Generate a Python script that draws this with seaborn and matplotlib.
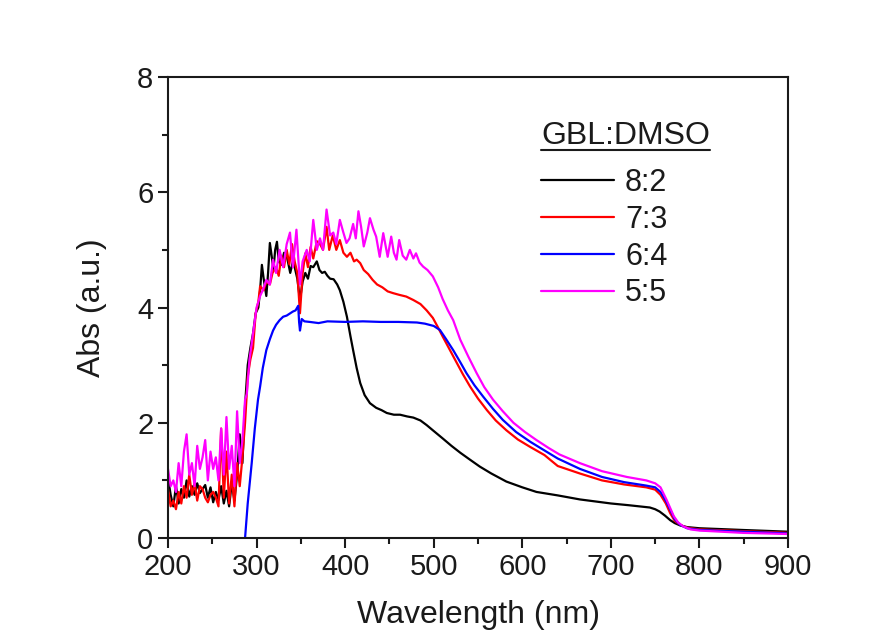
import numpy as np
import pandas as pd
import seaborn as sns
import matplotlib.pyplot as plt
from matplotlib.ticker import MultipleLocator
from matplotlib.lines import Line2D

# GBL:DMSO = 8:2
wl_82 = [200, 203, 206, 209, 212, 215, 218, 221, 224, 227, 230, 233, 236, 239, 242, 245, 248, 251, 254, 257,
         260, 263, 266, 269, 272, 275, 278, 281, 284, 287, 290, 293, 296, 299, 302, 304, 306, 308, 311, 313,
         315, 317, 319, 321, 323, 325, 328, 331, 334, 336, 338, 341, 343, 346, 349, 352, 355, 358, 361, 364,
         368, 371, 374, 377, 380, 383, 387, 391, 394, 398, 402, 406, 409, 413, 417, 422, 428, 435, 441, 447,
         455, 462, 470, 477, 485, 492, 499, 510, 520, 530, 540, 552, 565, 582, 600, 616, 640, 665, 700, 720,
         744, 750, 755, 761, 767, 772, 778, 786, 800, 825, 849, 875, 900]
abs_82 = [1.05, 0.75, 0.55, 0.9, 0.6, 0.85, 0.7, 1.0, 0.72, 0.9, 0.75, 0.95, 0.78, 0.85, 0.92, 0.7, 0.88, 0.62, 0.8, 0.66,
          0.9, 0.6, 0.82, 0.55, 0.95, 0.65, 1.1, 1.8, 1.3, 2.3, 3.0, 3.3, 3.55, 3.9, 4.0, 4.3, 4.74, 4.5, 4.2, 4.6,
          5.12, 4.9, 4.65, 5.0, 5.14, 4.8, 4.74, 4.95, 4.9, 4.75, 4.6, 4.8, 4.7, 4.5, 4.13, 4.45, 4.6, 4.5, 4.72, 4.7,
          4.8, 4.65, 4.6, 4.62, 4.55, 4.5, 4.49, 4.4, 4.3, 4.1, 3.84, 3.5, 3.26, 2.95, 2.69, 2.48, 2.34, 2.26, 2.22, 2.17,
          2.14, 2.14, 2.11, 2.09, 2.04, 1.96, 1.87, 1.73, 1.6, 1.48, 1.37, 1.24, 1.12, 0.98, 0.88, 0.8, 0.74, 0.67, 0.6, 0.57,
          0.53, 0.5, 0.46, 0.39, 0.31, 0.26, 0.22, 0.19, 0.17, 0.155, 0.14, 0.125, 0.11]

# GBL:DMSO = 7:3
wl_73 = [200, 203, 206, 209, 212, 215, 218, 221, 224, 227, 230, 233, 236, 239, 242, 245, 248, 251, 254, 257,
         260, 263, 266, 269, 272, 275, 278, 281, 284, 287, 290, 293, 296, 299, 302, 304, 308, 311, 315, 318,
         322, 325, 328, 331, 334, 337, 340, 343, 346, 349, 352, 355, 358, 361, 364, 368, 371, 375, 379, 382,
         386, 390, 394, 398, 402, 406, 410, 413, 417, 421, 426, 431, 436, 442, 448, 454, 461, 469, 477, 485,
         492, 499, 505, 510, 518, 526, 533, 541, 550, 560, 570, 582, 595, 609, 625, 640, 665, 690, 715, 740,
         750, 756, 762, 767, 772, 778, 786, 800, 849, 900]
abs_73 = [0.85, 0.55, 0.65, 0.5, 0.8, 0.6, 0.9, 0.7, 1.1, 0.75, 0.95, 0.65, 0.9, 0.85, 0.7, 0.62, 0.75, 0.8, 0.7, 0.55,
          1.9, 0.7, 1.5, 0.6, 1.1, 0.55, 1.3, 0.9, 1.4, 2.0, 2.8, 3.1, 3.3, 3.9, 4.1, 4.37, 4.3, 4.45, 4.4, 4.6,
          4.7, 4.55, 4.9, 4.7, 5.0, 4.75, 5.1, 4.8, 4.6, 3.9, 4.6, 4.94, 4.7, 5.05, 4.85, 5.15, 5.12, 5.0, 5.4, 5.0,
          5.25, 5.0, 5.17, 4.95, 4.88, 4.95, 4.8, 4.83, 4.77, 4.65, 4.58, 4.48, 4.4, 4.35, 4.28, 4.25, 4.22, 4.19, 4.13, 4.06,
          3.95, 3.82, 3.65, 3.5, 3.27, 3.04, 2.84, 2.63, 2.42, 2.22, 2.04, 1.87, 1.71, 1.58, 1.44, 1.25, 1.12, 1.0, 0.93, 0.88,
          0.84, 0.75, 0.6, 0.43, 0.3, 0.23, 0.18, 0.15, 0.12, 0.09]

# GBL:DMSO = 6:4
wl_64 = [287, 290, 294.5, 298, 301.6, 304, 307, 311, 315, 318.6, 322, 326, 330, 334, 338, 341, 344, 347, 348, 349,
         351, 354, 360, 370, 380, 400, 420, 440, 460, 481, 490, 500, 507, 514, 522, 530, 537, 546, 556, 567,
         578, 593, 609, 625, 640, 665, 690, 715, 740, 750, 756, 762, 767, 772, 778, 786, 800, 849, 900]
abs_64 = [0.0, 0.6, 1.3, 1.9, 2.4, 2.63, 2.95, 3.26, 3.45, 3.6, 3.7, 3.78, 3.84, 3.86, 3.9, 3.93, 3.95, 4.03, 3.75, 3.6,
          3.8, 3.76, 3.75, 3.73, 3.76, 3.75, 3.76, 3.75, 3.75, 3.74, 3.72, 3.68, 3.61, 3.45, 3.26, 3.05, 2.86, 2.65, 2.45, 2.24,
          2.05, 1.84, 1.67, 1.52, 1.38, 1.2, 1.06, 0.97, 0.91, 0.88, 0.8, 0.65, 0.49, 0.33, 0.23, 0.17, 0.14, 0.11, 0.08]

# GBL:DMSO = 5:5
wl_55 = [200, 203, 206, 209, 212, 215, 218, 221, 224, 227, 230, 233, 236, 239, 242, 245, 248, 251, 254, 257,
         260, 263, 266, 269, 272, 275, 278, 281, 284, 287, 289, 292, 296, 300, 304, 307, 311, 315, 318.6, 322,
         326, 330, 334, 337.7, 341, 345, 349, 352, 356.6, 360, 364, 368, 371.6, 375, 379, 383, 386.6, 390, 394, 398,
         401.5, 405, 409, 412, 415, 418, 421, 425, 428, 432, 435, 439, 443, 448, 452, 455, 458, 461, 465, 469,
         473, 477, 480, 484, 488, 493, 499, 505, 510, 516, 522, 530, 539, 548.5, 557, 567, 578, 590, 603, 616,
         630, 642, 665, 690, 718, 740, 750, 756, 763, 767, 771, 776, 782, 790, 800, 849, 900]
abs_55 = [1.2, 0.9, 1.0, 0.8, 1.3, 0.9, 1.5, 1.8, 1.1, 1.3, 0.9, 1.6, 1.2, 1.4, 1.7, 1.0, 1.5, 1.2, 1.4, 1.0,
          1.9, 1.1, 2.1, 1.2, 1.6, 0.9, 2.2, 1.3, 1.7, 2.4, 2.5, 3.1, 3.55, 4.0, 4.2, 4.3, 4.48, 4.4, 4.83, 4.6,
          5.0, 4.7, 5.1, 5.3, 4.7, 5.35, 4.4, 4.8, 5.0, 4.8, 5.52, 5.0, 5.2, 5.0, 5.7, 5.25, 5.3, 5.1, 5.52, 5.3,
          5.12, 5.2, 5.45, 5.2, 5.67, 5.4, 5.06, 5.3, 5.55, 5.35, 5.23, 4.88, 5.29, 4.88, 5.23, 4.95, 4.83, 5.17, 4.9, 4.83,
          5.0, 4.85, 4.94, 4.78, 4.71, 4.65, 4.54, 4.35, 4.15, 3.95, 3.78, 3.44, 3.15, 2.86, 2.62, 2.4, 2.2, 2.0, 1.84, 1.7,
          1.56, 1.45, 1.3, 1.16, 1.06, 1.0, 0.95, 0.88, 0.66, 0.52, 0.38, 0.27, 0.2, 0.15, 0.13, 0.09, 0.07]

ratios = ['8:2', '7:3', '6:4', '5:5']
colors = ['#000000', '#FF0000', '#0000FF', '#FF00FF']

df = pd.concat([
    pd.DataFrame({'wl': wl_82, 'abs': abs_82, 'ratio': '8:2'}),
    pd.DataFrame({'wl': wl_73, 'abs': abs_73, 'ratio': '7:3'}),
    pd.DataFrame({'wl': wl_64, 'abs': abs_64, 'ratio': '6:4'}),
    pd.DataFrame({'wl': wl_55, 'abs': abs_55, 'ratio': '5:5'}),
], ignore_index=True)

sns.set_theme(style='ticks')
plt.rcParams['font.family'] = ['Liberation Sans', 'DejaVu Sans']

fig = plt.figure(figsize=(8.96, 6.33), dpi=100)
ax = fig.add_axes([0.1875, 0.15, 0.692, 0.7284])

sns.lineplot(data=df, x='wl', y='abs', hue='ratio', hue_order=ratios,
             palette=dict(zip(ratios, colors)), estimator=None, sort=False,
             linewidth=1.6, legend=False, ax=ax)

ax.set_xlim(200, 900)
ax.set_ylim(0, 8)
ax.xaxis.set_major_locator(MultipleLocator(100))
ax.xaxis.set_minor_locator(MultipleLocator(50))
ax.yaxis.set_major_locator(MultipleLocator(2))
ax.yaxis.set_minor_locator(MultipleLocator(1))
ax.tick_params(which='major', direction='out', length=7, width=1.5, labelsize=21, color='k', labelcolor='k')
ax.tick_params(which='minor', direction='out', length=4, width=1.5, color='k')
for s in ax.spines.values():
    s.set_visible(True)
    s.set_linewidth(1.5)
    s.set_color('k')

ax.set_xlabel('Wavelength (nm)', fontsize=23, labelpad=14, color='k')
ax.set_ylabel('Abs (a.u.)', fontsize=23, labelpad=22, color='k')

handles = [Line2D([], [], color=c, lw=1.6) for c in colors]
leg = ax.legend(handles, ratios, title='GBL:DMSO', loc='upper left',
                bbox_to_anchor=(0.582, 0.93), frameon=False, fontsize=22,
                title_fontsize=23, handlelength=2.4, handletextpad=0.35,
                labelspacing=0.22, borderaxespad=0, alignment='left')
for t in leg.get_texts():
    t.set_color('k')
leg.get_title().set_color('k')
# extra gap between the title and the entries
leg._legend_box.sep = 12

# underline the legend title
fig.canvas.draw()
bb = leg.get_title().get_window_extent().transformed(fig.transFigure.inverted())
fig.add_artist(Line2D([bb.x0, bb.x1], [bb.y0 + 0.002, bb.y0 + 0.002],
                      transform=fig.transFigure, color='k', lw=1.5))

fig.savefig('out.png', dpi=100)
